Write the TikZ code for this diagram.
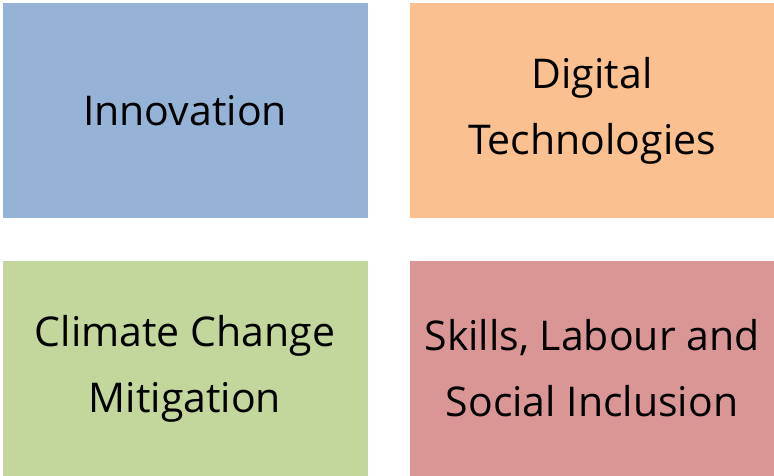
\documentclass[tikz,border=0pt]{standalone}
\usepackage{fontspec}
\setmainfont{Open Sans}
\usepackage{tikz}
\definecolor{innoblue}{HTML}{95B3D7}
\definecolor{digiorange}{HTML}{FAC090}
\definecolor{climgreen}{HTML}{C3D69B}
\definecolor{skillred}{HTML}{D99694}
\begin{document}
\begin{tikzpicture}[x=1pt,y=-1pt,
    area/.style={minimum width=365pt,minimum height=215pt,inner sep=0pt,
      align=center,font=\fontsize{41}{66}\selectfont,text=black}]
      \useasboundingbox (0,0) rectangle (774,476);
      \node[area,fill=innoblue] (inno) at (185,110.5) {Innovation};
      \node[area,fill=digiorange] (digi) at (592,110.5) {Digital\\Technologies};
      \node[area,fill=climgreen] (clim) at (185,368.5) {Climate Change\\Mitigation};
      \node[area,fill=skillred] (skill) at (592,368.5) {Skills, Labour and\\Social Inclusion};
    \end{tikzpicture}
\end{document}
